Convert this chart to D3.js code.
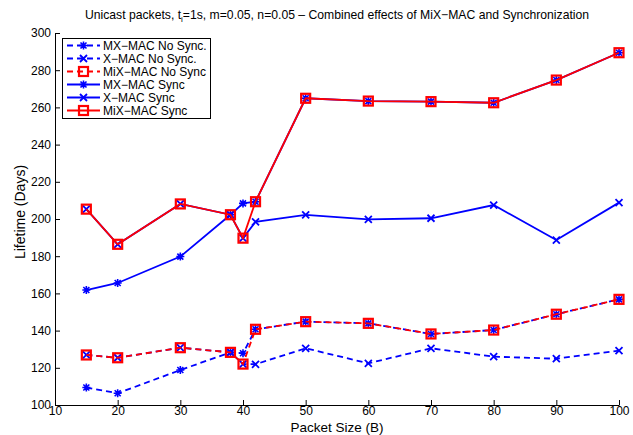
<!DOCTYPE html>
<html>
<head>
<meta charset="utf-8">
<script src="https://cdn.jsdelivr.net/npm/d3@7"></script>
<style>
  html, body { margin: 0; padding: 0; background: #fff; }
  svg { display: block; font-family: "Liberation Sans", Arial, sans-serif; }
</style>
</head>
<body>
<svg id="chart" width="633" height="435"></svg>
<script>
// Packet sizes (bytes)
const packetSizes = [15, 20, 30, 38, 40, 42, 50, 60, 70, 80, 90, 100];

// Lifetime in days for each MAC variant
const mxNoSync  = [109.4, 106.3, 118.8, 128.3, 127.8, 140.7, 144.8, 143.9, 138.2, 140.3, 148.8, 156.8];
const xNoSync   = [126.9, 125.4, 130.8, 128.3, 122.0, 121.9, 130.5, 122.4, 130.5, 126.0, 124.9, 129.2];
const mixNoSync = [126.9, 125.4, 130.8, 128.3, 122.0, 140.7, 144.8, 143.9, 138.2, 140.3, 148.8, 156.8];
const mxSync    = [161.8, 165.6, 179.8, 202.3, 208.4, 209.3, 264.9, 263.4, 263.1, 262.5, 274.7, 289.4];
const xSync     = [205.3, 186.4, 208.1, 202.3, 189.7, 198.5, 202.2, 199.8, 200.4, 207.5, 188.7, 208.8];
const mixSync   = [205.3, 186.4, 208.1, 202.3, 189.7, 209.3, 264.9, 263.4, 263.1, 262.5, 274.7, 289.4];

const xTicks = [10, 20, 30, 40, 50, 60, 70, 80, 90, 100];
const yTicks = [100, 120, 140, 160, 180, 200, 220, 240, 260, 280, 300];

const seriesNames = ["MX\u2212MAC No Sync.", "X\u2212MAC No Sync.", "MiX\u2212MAC No Sync",
                     "MX\u2212MAC Sync", "X\u2212MAC Sync", "MiX\u2212MAC Sync"];
const seriesValues = [mxNoSync, xNoSync, mixNoSync, mxSync, xSync, mixSync];
const seriesColors = ["#0000ff", "#0000ff", "#ff0000", "#0000ff", "#0000ff", "#ff0000"];
const seriesMarkers = ["star", "cross", "square", "star", "cross", "square"];
const seriesDashed = [true, true, true, false, false, false];

const svg = d3.select("#chart");
const plotLeft = 55, plotRight = 619, plotTop = 33, plotBottom = 405;

const x = d3.scaleLinear().domain([10, 100]).range([plotLeft, plotRight]);
const y = d3.scaleLinear().domain([100, 300]).range([plotBottom, plotTop]);

// Title
const title = svg.append("text")
  .attr("x", 337).attr("y", 19)
  .attr("text-anchor", "middle")
  .attr("font-size", 12.2)
  .attr("fill", "#000");
title.append("tspan").text("Unicast packets, t");
title.append("tspan").attr("font-size", 8).attr("dy", 3).text("i");
title.append("tspan").attr("dy", -3).text("=1s, m=0.05, n=0.05 \u2013 Combined effects of MiX\u2212MAC and Synchronization");

// Axes (ticks pointing inward)
const xAxis = d3.axisBottom(x).tickValues(xTicks).tickSizeInner(-5).tickSizeOuter(0).tickPadding(4);
const yAxis = d3.axisLeft(y).tickValues(yTicks).tickSizeInner(-5).tickSizeOuter(0).tickPadding(4);

const gx = svg.append("g").attr("transform", `translate(0,${plotBottom})`).call(xAxis);
const gy = svg.append("g").attr("transform", `translate(${plotLeft},0)`).call(yAxis);
[gx, gy].forEach(g => {
  g.selectAll("path.domain").attr("stroke", "#000").attr("stroke-width", 1);
  g.selectAll(".tick line").attr("stroke", "#000");
  g.selectAll(".tick text").attr("font-size", 12).attr("fill", "#000")
    .attr("font-family", "'Liberation Sans', Arial, sans-serif");
});
gx.selectAll(".tick text").attr("y", 10).attr("dy", 0);

// Axis labels
svg.append("text")
  .attr("x", 337).attr("y", 432)
  .attr("text-anchor", "middle").attr("font-size", 13.5).attr("fill", "#000")
  .text("Packet Size (B)");
svg.append("text")
  .attr("transform", "translate(25,212) rotate(-90)")
  .attr("text-anchor", "middle").attr("font-size", 14).attr("fill", "#000")
  .text("Lifetime (Days)");

// Marker drawing
function drawMarker(g, type, cx, cy, color) {
  if (type === "square") {
    g.append("rect").attr("x", cx - 4.5).attr("y", cy - 4.5)
      .attr("width", 9).attr("height", 9)
      .attr("fill", "none").attr("stroke", color).attr("stroke-width", 2.2);
  } else if (type === "cross") {
    const r = 3.5;
    g.append("path")
      .attr("d", `M${cx - r},${cy - r}L${cx + r},${cy + r}M${cx - r},${cy + r}L${cx + r},${cy - r}`)
      .attr("stroke", color).attr("stroke-width", 1.8).attr("fill", "none");
  } else if (type === "star") {
    const r = 4, d = 3;
    g.append("path")
      .attr("d", `M${cx - r},${cy}L${cx + r},${cy}M${cx},${cy - r}L${cx},${cy + r}` +
                 `M${cx - d},${cy - d}L${cx + d},${cy + d}M${cx - d},${cy + d}L${cx + d},${cy - d}`)
      .attr("stroke", color).attr("stroke-width", 1.6).attr("fill", "none");
  }
}

const line = d3.line().x(d => x(d[0])).y(d => y(d[1]));
const plot = svg.append("g");

seriesValues.forEach((vals, i) => {
  const pts = packetSizes.map((p, j) => [p, vals[j]]);
  plot.append("path")
    .datum(pts)
    .attr("d", line)
    .attr("fill", "none")
    .attr("stroke", seriesColors[i])
    .attr("stroke-width", 1.8)
    .attr("stroke-dasharray", seriesDashed[i] ? "6,4" : null);
  const mg = plot.append("g");
  pts.forEach(p => drawMarker(mg, seriesMarkers[i], x(p[0]), y(p[1]), seriesColors[i]));
});

// Legend
const lg = svg.append("g");
lg.append("rect").attr("x", 62.5).attr("y", 38.5).attr("width", 148).attr("height", 80)
  .attr("fill", "#fff").attr("stroke", "#000").attr("stroke-width", 1);
seriesNames.forEach((name, i) => {
  const ry = 45.5 + i * 13;
  lg.append("line").attr("x1", 67).attr("x2", 100).attr("y1", ry).attr("y2", ry)
    .attr("stroke", seriesColors[i]).attr("stroke-width", 1.8)
    .attr("stroke-dasharray", seriesDashed[i] ? "6,4" : null);
  drawMarker(lg, seriesMarkers[i], 83.5, ry, seriesColors[i]);
  lg.append("text").attr("x", 103).attr("y", ry + 4.3)
    .attr("font-size", 12).attr("fill", "#000").text(name);
});
</script>
</body>
</html>
